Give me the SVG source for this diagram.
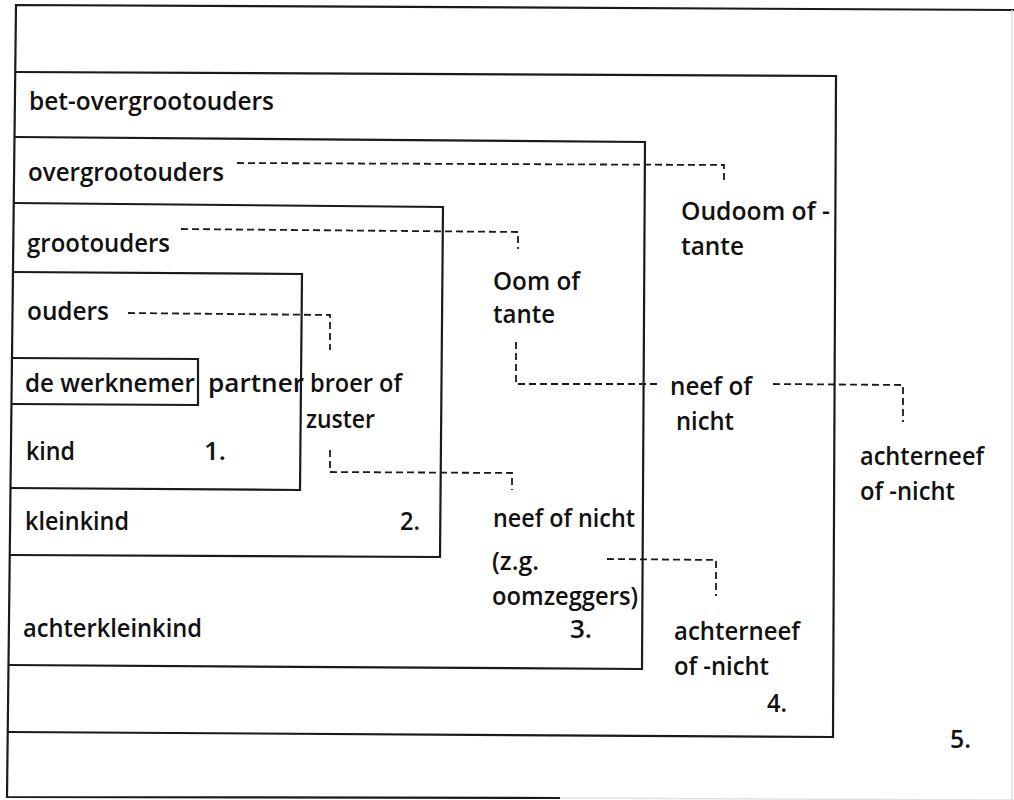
<svg xmlns="http://www.w3.org/2000/svg" width="1014" height="800" viewBox="0 0 1014 800">
<style>
.box{fill:none;stroke:#1a1a1a;stroke-width:2.2;stroke-linejoin:miter}
.faint{fill:none;stroke:#e0e0e0;stroke-width:1.5}
.dash{fill:none;stroke:#1a1a1a;stroke-width:1.8;stroke-dasharray:7 4}
text{font-family:"Open Sans","Liberation Sans",sans-serif;font-size:25px;font-weight:600;fill:#111}
</style>
<rect width="1014" height="800" fill="#fff"/>
<g id="box5">
<path class="box" d="M1014,10 L16,5 L7,797 L560,798"/>
<path class="faint" d="M560,798 L1012,800 L1012,10"/>
<text x="950" y="748" textLength="21" lengthAdjust="spacingAndGlyphs">5.</text>
</g>
<g id="box4">
<path class="box" d="M15.2,72 L836,76 L833,737 L7.7,732"/>
<text x="29" y="110" textLength="245" lengthAdjust="spacingAndGlyphs">bet-overgrootouders</text>
<text x="767" y="712" textLength="20" lengthAdjust="spacingAndGlyphs">4.</text>
</g>
<g id="box3">
<path class="box" d="M14.5,137 L645,142 L642,669 L8.5,665"/>
<text x="28" y="181" textLength="196" lengthAdjust="spacingAndGlyphs">overgrootouders</text>
<text x="23" y="637" textLength="179" lengthAdjust="spacingAndGlyphs">achterkleinkind</text>
<text x="570" y="638" textLength="22" lengthAdjust="spacingAndGlyphs">3.</text>
</g>
<g id="box2">
<path class="box" d="M13.7,203 L443,207 L440,557 L9.7,555"/>
<text x="27" y="252" textLength="143" lengthAdjust="spacingAndGlyphs">grootouders</text>
<text x="25" y="530" textLength="104" lengthAdjust="spacingAndGlyphs">kleinkind</text>
<text x="400" y="530" textLength="20" lengthAdjust="spacingAndGlyphs">2.</text>
</g>
<g id="box1">
<path class="box" d="M13,272 L302,274 L300,490 L10.5,488"/>
<text x="27" y="320" textLength="82" lengthAdjust="spacingAndGlyphs">ouders</text>
<text x="208" y="392" textLength="96" lengthAdjust="spacingAndGlyphs">partner</text>
<text x="26" y="460" textLength="49" lengthAdjust="spacingAndGlyphs">kind</text>
<text x="204" y="460" textLength="22" lengthAdjust="spacingAndGlyphs">1.</text>
</g>
<g id="werknemer">
<path class="box" d="M12,358 L198,359 L198,405 L11.5,404"/>
<text x="25" y="392" textLength="170" lengthAdjust="spacingAndGlyphs">de werknemer</text>
</g>
<g id="broer">
<text x="310" y="392" textLength="92" lengthAdjust="spacingAndGlyphs">broer of</text>
<text x="306" y="428" textLength="69" lengthAdjust="spacingAndGlyphs">zuster</text>
</g>
<g id="oom">
<text x="493" y="290" textLength="87" lengthAdjust="spacingAndGlyphs">Oom of</text>
<text x="493" y="323" textLength="62" lengthAdjust="spacingAndGlyphs">tante</text>
</g>
<g id="oudoom">
<text x="681" y="220" textLength="149" lengthAdjust="spacingAndGlyphs">Oudoom of -</text>
<text x="681" y="255" textLength="63" lengthAdjust="spacingAndGlyphs">tante</text>
</g>
<g id="neef1">
<text x="670" y="395" textLength="82" lengthAdjust="spacingAndGlyphs">neef of</text>
<text x="676" y="430" textLength="58" lengthAdjust="spacingAndGlyphs">nicht</text>
</g>
<g id="achterneef1">
<text x="860" y="465" textLength="124" lengthAdjust="spacingAndGlyphs">achterneef</text>
<text x="860" y="500" textLength="95" lengthAdjust="spacingAndGlyphs">of -nicht</text>
</g>
<g id="neef2">
<text x="493" y="527" textLength="142" lengthAdjust="spacingAndGlyphs">neef of nicht</text>
<text x="492" y="570" textLength="47" lengthAdjust="spacingAndGlyphs">(z.g.</text>
<text x="492" y="605" textLength="146" lengthAdjust="spacingAndGlyphs">oomzeggers)</text>
</g>
<g id="achterneef2">
<text x="674" y="640" textLength="126" lengthAdjust="spacingAndGlyphs">achterneef</text>
<text x="674" y="675" textLength="95" lengthAdjust="spacingAndGlyphs">of -nicht</text>
</g>
<g id="connectors">
<path class="dash" d="M237,163 L724,165 L724,184"/>
<path class="dash" d="M181,229 L518,232 L518,249"/>
<path class="dash" d="M128,313 L330,315 L330,350"/>
<path class="dash" d="M330,450 L330,472 L512,473 L512,490"/>
<path class="dash" d="M516,342 L516,384 L657,384"/>
<path class="dash" d="M773,384 L903,385 L903,422"/>
<path class="dash" d="M607,559 L716,560 L716,596"/>
</g>
</svg>
